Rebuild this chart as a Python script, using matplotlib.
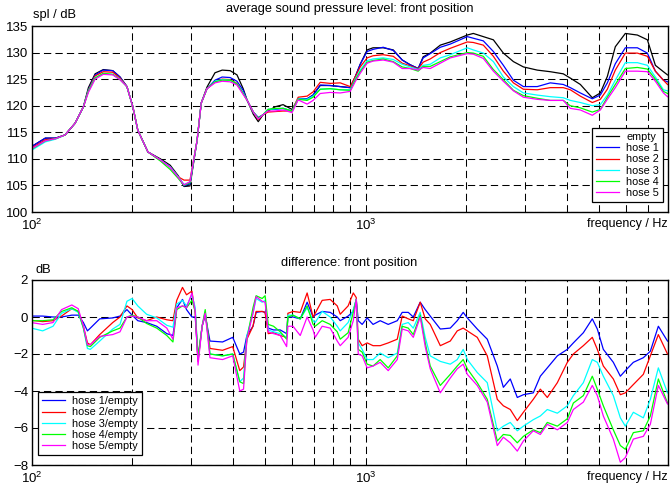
import matplotlib
matplotlib.use("Agg")
import matplotlib.pyplot as plt
from matplotlib.ticker import LogLocator, NullFormatter, FixedLocator

plt.rcParams["font.family"] = ["Liberation Sans", "DejaVu Sans"]
plt.rcParams["mathtext.fontset"] = "custom"
plt.rcParams["mathtext.rm"] = "Liberation Sans"

# ---------------------------------------------------------------
# top panel: average spl
# ---------------------------------------------------------------
freq_spl = [100, 110, 118, 126, 135, 143, 148, 155, 164, 175, 184, 193, 201,
            208, 223, 243, 260, 275, 286, 298, 313, 322, 335, 354, 372, 393,
            412, 430, 442, 461, 477, 493, 510, 536, 566, 602, 628, 668, 696,
            731, 783, 839, 899, 930, 963, 1010, 1052, 1128, 1209, 1286, 1359,
            1436, 1486, 1560, 1672, 1791, 2014, 2099, 2249, 2410, 2582, 2767,
            2964, 3261, 3567, 3901, 4095, 4388, 4765, 5036, 5285, 5584, 5983,
            6500, 6965, 7359, 7778, 8000]

spl_empty = [112.3, 113.9, 113.9, 114.5, 116.7, 119.8, 123.4, 126.0, 126.8,
             126.6, 125.4, 123.6, 119.8, 115.4, 111.3, 110.0, 108.8, 106.8,
             104.8, 104.9, 113.5, 120.5, 123.5, 126.2, 126.7, 126.6, 125.8,
             123.2, 121.0, 118.4, 117.0, 118.3, 119.0, 119.8, 120.2, 119.3,
             121.3, 121.3, 122.0, 123.8, 123.8, 123.6, 123.4, 125.4, 127.8,
             130.5, 130.9, 130.9, 130.5, 128.6, 127.7, 127.0, 129.2, 129.9,
             131.4, 132.0, 133.3, 133.6, 133.0, 132.4, 129.9, 128.3, 127.3,
             126.7, 126.4, 126.0, 125.2, 124.0, 121.5, 122.4, 125.5, 131.1,
             133.6, 133.3, 132.4, 127.6, 126.4, 125.8]
spl_hose1 = [112.3, 113.9, 113.9, 114.5, 116.7, 119.8, 123.0, 125.8, 126.7,
             126.6, 125.4, 123.6, 119.8, 115.4, 111.3, 109.8, 108.5, 106.6,
             104.9, 105.3, 113.5, 120.5, 123.2, 124.8, 125.4, 125.3, 124.6,
             122.9, 121.0, 118.8, 117.8, 118.3, 119.3, 119.3, 119.5, 119.0,
             121.3, 121.3, 122.0, 123.9, 123.8, 123.6, 123.4, 125.4, 127.8,
             130.2, 130.6, 131.0, 130.4, 128.6, 127.7, 127.0, 129.0, 129.8,
             131.0, 131.6, 133.0, 132.7, 132.2, 130.2, 127.6, 124.8, 123.6,
             123.6, 124.3, 124.0, 123.4, 122.4, 121.3, 122.0, 124.3, 127.9,
             130.9, 130.9, 129.9, 126.5, 124.8, 124.5]
spl_hose2 = [112.0, 113.6, 113.8, 114.5, 116.7, 119.8, 122.9, 125.6, 126.4,
             126.3, 125.2, 123.6, 119.8, 115.4, 111.3, 109.8, 108.5, 106.6,
             106.0, 106.0, 113.5, 120.5, 123.2, 124.5, 125.0, 124.9, 124.2,
             122.3, 121.0, 118.8, 117.4, 118.3, 118.8, 118.9, 119.0, 119.0,
             121.6, 121.8, 122.6, 124.4, 124.2, 124.3, 123.6, 125.4, 127.3,
             129.0, 129.4, 129.6, 129.3, 128.0, 127.5, 126.9, 128.2, 128.8,
             130.0, 130.8, 132.0, 131.9, 131.4, 129.3, 126.5, 124.3, 123.1,
             123.0, 123.4, 123.4, 123.0, 121.8, 120.6, 121.2, 123.1, 126.7,
             129.9, 129.9, 129.3, 126.5, 124.8, 124.0]
spl_hose3 = [111.6, 113.2, 113.7, 114.5, 116.7, 119.8, 122.8, 125.3, 126.0,
             125.9, 125.0, 123.6, 119.8, 115.4, 111.3, 109.8, 108.5, 106.6,
             105.2, 105.6, 113.5, 120.5, 123.2, 124.6, 124.9, 124.8, 124.1,
             122.4, 121.0, 118.8, 117.6, 118.3, 119.3, 119.4, 119.5, 119.0,
             121.3, 121.2, 121.8, 123.1, 123.2, 123.0, 123.0, 125.0, 126.7,
             128.5, 128.8, 129.0, 128.7, 127.8, 127.3, 126.8, 127.6, 127.8,
             129.0, 129.6, 130.9, 130.5, 129.9, 128.3, 125.4, 123.6, 122.4,
             122.0, 121.7, 121.5, 121.0, 120.6, 120.0, 120.2, 122.0, 124.8,
             128.1, 128.1, 127.6, 125.4, 123.0, 122.8]
spl_hose4 = [111.8, 113.4, 113.8, 114.5, 116.7, 119.8, 122.7, 125.2, 126.1,
             125.9, 124.9, 123.6, 119.8, 115.4, 111.3, 109.6, 108.0, 106.3,
             105.0, 105.5, 113.5, 120.5, 123.2, 124.5, 124.8, 124.8, 124.1,
             122.3, 121.0, 118.8, 117.7, 118.3, 119.3, 119.5, 119.5, 119.0,
             121.2, 121.0, 121.6, 123.1, 123.2, 123.0, 122.9, 124.8, 126.4,
             128.2, 128.5, 128.8, 128.3, 127.3, 127.0, 126.5, 127.4, 127.4,
             128.3, 129.2, 130.0, 129.9, 129.3, 126.8, 124.9, 122.9, 121.9,
             121.4, 121.0, 121.0, 120.0, 119.6, 118.8, 119.3, 121.6, 124.0,
             127.0, 127.2, 126.9, 125.0, 122.7, 122.3]
spl_hose5 = [111.9, 113.4, 113.8, 114.5, 116.7, 119.8, 122.5, 125.0, 125.9,
             125.8, 124.9, 123.6, 119.8, 115.4, 111.3, 109.8, 108.4, 106.5,
             105.1, 105.7, 113.5, 120.5, 123.2, 124.3, 124.6, 124.5, 123.9,
             122.1, 121.0, 118.8, 117.5, 118.3, 119.0, 119.0, 119.2, 118.7,
             121.1, 120.3, 121.0, 122.3, 122.5, 122.4, 122.7, 124.5, 126.1,
             128.0, 128.4, 128.6, 128.2, 127.0, 127.0, 126.7, 127.2, 127.0,
             128.0, 129.0, 129.8, 129.7, 128.9, 126.5, 124.6, 122.8, 121.6,
             121.2, 121.0, 121.0, 119.5, 119.2, 118.2, 119.2, 121.2, 123.4,
             126.5, 126.5, 126.4, 124.6, 122.4, 121.7]

# ---------------------------------------------------------------
# bottom panel: hose / empty difference
# ---------------------------------------------------------------
freq_diff = [100, 108, 116, 123, 132, 138, 143, 147, 150, 160, 175, 184, 193,
             200, 208, 221, 237, 254, 265, 272, 283, 291, 302, 309, 315, 324,
             331, 342, 373, 400, 420, 431, 441, 460, 470, 490, 500, 511, 530,
             555, 580, 585, 606, 637, 668, 696, 706, 741, 783, 822, 839, 886,
             918, 937, 950, 976, 1010, 1052, 1105, 1168, 1243, 1286, 1341,
             1388, 1456, 1507, 1560, 1672, 1791, 1879, 1958, 2014, 2157, 2311,
             2476, 2582, 2708, 2842, 2964, 3173, 3331, 3495, 3745, 4012, 4182,
             4480, 4765, 4933, 5141, 5508, 5781, 5983, 6323, 6773, 7108, 7511,
             8000]

diff_hose1 = [0.05, 0.05, 0.0, 0.0, 0.1, 0.1, -0.3, -0.75, -0.6, -0.1, -0.05,
              0.05, 0.4, 0.1, -0.2, -0.3, -0.5, -0.9, -1.0, 0.5, 0.95, 0.4,
              0.0, 0.0, -2.3, -0.5, 0.1, -1.3, -1.35, -1.1, -2.0, -1.9, -1.0,
              -0.5, 0.25, 0.3, 0.25, -0.6, -0.7, -0.7, -0.9, 0.0, 0.0, -0.1,
              0.8, 0.0, 0.1, 0.3, 0.25, 0.0, -0.2, 0.05, 0.3, 0.95, -0.2,
              -0.4, -0.05, -0.4, -0.2, -0.4, -0.2, 0.25, 0.25, 0.0, 0.8, 0.4,
              0.05, -0.65, -0.6, -0.2, 0.25, -0.05, -0.65, -1.2, -2.65, -3.8,
              -3.35, -4.35, -4.2, -4.1, -3.2, -2.75, -2.1, -1.75, -1.4, -0.85,
              -0.1, -0.65, -1.75, -2.45, -3.2, -2.9, -2.45, -2.2, -1.85, -0.5,
              -1.3]
diff_hose2 = [-0.18, -0.25, -0.2, 0.05, 0.45, 0.3, -0.5, -1.4, -1.5, -0.95,
              -0.3, 0.0, 0.6, 0.4, -0.05, -0.2, 0.0, -0.15, -0.2, 0.9, 1.6,
              1.2, 1.4, 0.2, -2.4, -0.5, 0.2, -1.7, -1.8, -1.6, -2.9, -2.7,
              -1.2, -0.5, 0.3, 0.3, 0.25, -0.9, -0.85, -1.0, -1.1, 0.2, 0.3,
              0.25, 1.3, 0.0, 0.2, 0.9, 0.95, 0.6, 0.15, 0.6, 1.3, 1.05, -1.2,
              -1.55, -1.4, -1.55, -1.55, -1.4, -1.2, 0.05, -0.1, -0.2, 0.8,
              -0.1, -0.4, -1.55, -1.3, -0.75, -0.6, -0.75, -1.1, -2.1, -4.45,
              -4.8, -5.0, -5.6, -5.15, -4.45, -3.9, -4.35, -3.55, -2.45, -2.0,
              -1.55, -1.1, -1.75, -2.65, -3.35, -4.2, -4.1, -3.65, -3.1, -2.1,
              -0.95, -2.0]
diff_hose3 = [-0.6, -0.75, -0.5, 0.2, 0.45, 0.25, -0.6, -1.7, -1.75, -1.3,
              -0.65, -0.4, 0.85, 1.0, 0.6, 0.15, -0.05, -0.45, -0.55, 0.7, 0.9,
              0.6, 1.2, 0.5, -2.3, -0.5, 0.3, -2.0, -2.1, -2.0, -3.5, -3.3,
              -1.0, 0.2, 1.0, 0.8, 0.9, -0.7, -0.8, -0.9, -1.1, 0.1, 0.1, -0.1,
              0.5, -0.2, -0.3, 0.3, 0.0, -0.5, -0.75, -0.3, 0.4, 0.95, -1.4,
              -1.75, -2.3, -2.3, -1.95, -2.2, -1.95, -0.4, -0.3, -0.6, 0.25,
              -1.1, -2.1, -2.4, -2.55, -2.3, -1.75, -2.3, -3.0, -3.55, -6.15,
              -5.9, -5.7, -6.15, -5.9, -5.55, -5.35, -5.0, -5.2, -4.8, -4.25,
              -3.55, -2.3, -2.45, -3.2, -4.25, -5.45, -5.9, -5.15, -5.45,
              -4.45, -2.75, -4.1]
diff_hose4 = [-0.2, -0.2, -0.15, 0.3, 0.5, 0.3, -0.6, -1.55, -1.6, -1.1,
              -0.75, -0.6, 0.0, 0.1, 0.0, -0.35, -0.6, -1.0, -1.35, 0.4, 0.6,
              0.5, 0.9, 0.3, -2.1, -0.5, 0.4, -2.0, -2.1, -2.0, -3.5, -3.6,
              -1.2, 0.5, 1.15, 1.0, 1.15, -0.4, -0.5, -0.8, -1.2, 0.0, 0.1,
              -0.1, 0.6, -0.4, -0.5, -0.2, -0.4, -0.8, -1.2, -0.85, 0.25, 0.95,
              -1.75, -1.9, -2.55, -2.65, -2.3, -2.75, -2.1, -0.5, -0.6, -0.95,
              0.1, -1.4, -2.65, -3.7, -3.1, -2.65, -2.3, -2.8, -3.55, -4.45,
              -6.7, -6.35, -6.4, -6.8, -6.45, -6.1, -6.25, -5.7, -5.9, -5.5,
              -4.65, -4.25, -3.2, -3.9, -4.8, -6.1, -6.95, -7.15, -6.25, -6.15,
              -5.35, -3.35, -4.65]
diff_hose5 = [-0.3, -0.4, -0.3, 0.4, 0.65, 0.45, -0.5, -1.5, -1.5, -1.05,
              -0.95, -0.8, 0.0, 0.05, 0.0, -0.2, -0.2, -0.6, -1.2, 0.5, 0.6,
              0.5, 1.3, 0.3, -2.6, -0.5, 0.2, -2.2, -2.3, -2.1, -4.0, -3.9,
              -1.2, 0.2, 1.1, 0.85, 0.8, -0.8, -0.9, -1.0, -1.6, -0.5, -0.5,
              -1.0, 0.0, -0.7, -1.1, -0.5, -0.6, -1.3, -1.55, -1.1, -0.2, 0.95,
              -2.0, -2.1, -2.75, -2.65, -2.45, -2.9, -2.3, -0.65, -0.75, -1.1,
              0.0, -1.6, -2.8, -4.1, -3.3, -2.8, -2.55, -3.1, -3.7, -4.6,
              -6.95, -6.5, -6.8, -7.25, -6.7, -6.15, -6.35, -5.8, -6.1, -5.7,
              -5.0, -4.6, -3.7, -4.25, -5.35, -6.6, -7.85, -7.6, -6.6, -6.45,
              -5.8, -3.7, -4.7]

spl_labels = ["empty", "hose 1", "hose 2", "hose 3", "hose 4", "hose 5"]
diff_labels = ["hose 1/empty", "hose 2/empty", "hose 3/empty",
               "hose 4/empty", "hose 5/empty"]
colors = ["black", "#0000ff", "#ff0000", "#00ffff", "#00ff00", "#ff00ff"]


def style_axes(ax, ymin, ymax, yticks):
    """MATLAB-like look: dashed black grid on every decade subdivision."""
    ax.set_xscale("log")
    ax.set_xlim(100, 8000)
    ax.set_ylim(ymin, ymax)
    ax.yaxis.set_major_locator(FixedLocator(yticks))
    ax.xaxis.set_major_locator(LogLocator(base=10))
    ax.xaxis.set_minor_locator(LogLocator(base=10, subs=range(2, 10)))
    ax.xaxis.set_minor_formatter(NullFormatter())
    ax.grid(True, which="both", color="black", linestyle=(0, (7, 4)),
            linewidth=0.75)
    ax.tick_params(which="both", direction="in", length=0, labelsize=9.5,
                   pad=2.5)
    ax.tick_params(axis="x", pad=4)
    for sp in ax.spines.values():
        sp.set_linewidth(1.0)


def add_legend(ax, loc, anchor):
    leg = ax.legend(loc=loc, bbox_to_anchor=anchor,
                    bbox_transform=fig.transFigure, fontsize=7.8,
                    frameon=True, fancybox=False, edgecolor="black",
                    framealpha=1, handlelength=2.1, borderpad=0.35,
                    labelspacing=0.12, handletextpad=0.7, borderaxespad=0.0)
    leg.get_frame().set_linewidth(0.9)
    return leg


fig = plt.figure(figsize=(6.7, 4.88), dpi=100)
ax1 = fig.add_axes([31.5 / 670, 1 - 212 / 488, 636 / 670, 186 / 488])
ax2 = fig.add_axes([31.5 / 670, 1 - 465 / 488, 636 / 670, 185 / 488])

spl_series = [spl_empty, spl_hose1, spl_hose2, spl_hose3, spl_hose4, spl_hose5]
for vals, lab, col in zip(spl_series, spl_labels, colors):
    ax1.plot(freq_spl, vals, color=col, lw=0.9, label=lab)
style_axes(ax1, 100, 135, [100, 105, 110, 115, 120, 125, 130, 135])
ax1.set_title("average sound pressure level: front position", fontsize=9.2,
              pad=10)
add_legend(ax1, "lower right", (663 / 670, 1 - 202 / 488))

diff_series = [diff_hose1, diff_hose2, diff_hose3, diff_hose4, diff_hose5]
for vals, lab, col in zip(diff_series, diff_labels, colors[1:]):
    ax2.plot(freq_diff, vals, color=col, lw=0.9, label=lab)
style_axes(ax2, -8, 2, [-8, -6, -4, -2, 0, 2])
ax2.set_title("difference: front position", fontsize=9.2, pad=10)
add_legend(ax2, "lower left", (38 / 670, 1 - 455 / 488))

# axis captions placed like the MATLAB original
fig.text(33 / 670, 1 - 15 / 488, "spl / dB", fontsize=9.3, ha="left",
         va="center")
fig.text(35 / 670, 1 - 270 / 488, "dB", fontsize=9.3, ha="left", va="center")
fig.text(668 / 670, 1 - 224 / 488, "frequency / Hz", fontsize=9.0, ha="right",
         va="center")
fig.text(668 / 670, 1 - 477 / 488, "frequency / Hz", fontsize=9.0, ha="right",
         va="center")

fig.savefig("out.png", dpi=100)
